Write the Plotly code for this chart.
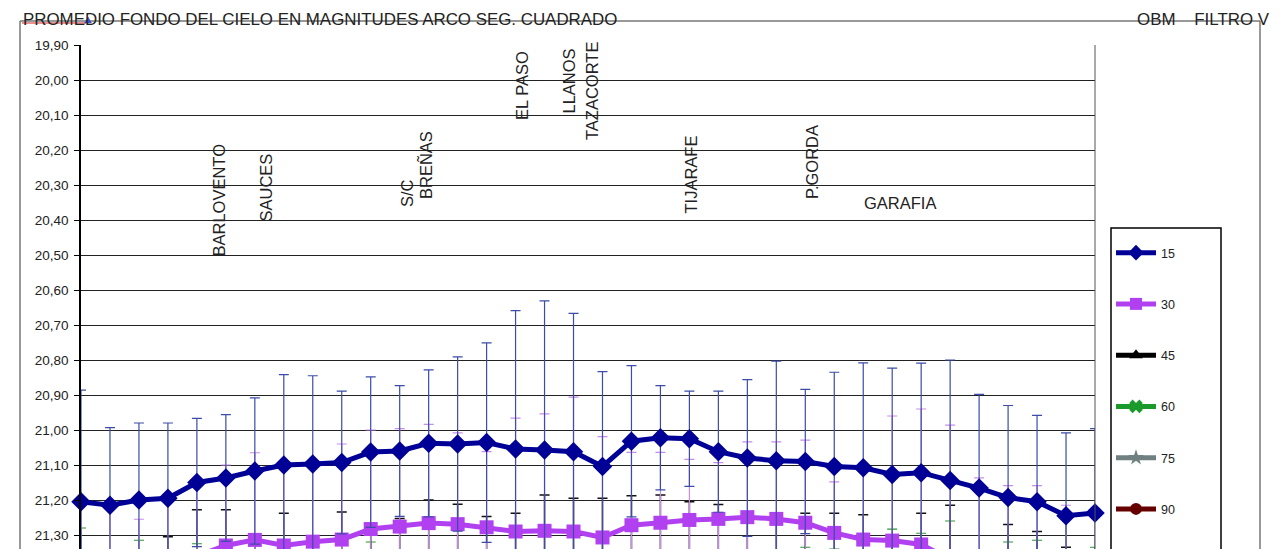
import plotly.graph_objects as go

# ---------------- data ----------------
puntos = list(range(36))
series_names = ["15", "30", "45", "60", "75", "90"]

m15 = [21.205, 21.215, 21.200, 21.195, 21.150, 21.137, 21.117, 21.100, 21.097, 21.093,
       21.063, 21.060, 21.038, 21.040, 21.036, 21.054, 21.057, 21.062, 21.104, 21.032,
       21.022, 21.025, 21.062, 21.080, 21.088, 21.090, 21.104, 21.108, 21.127, 21.122,
       21.144, 21.166, 21.193, 21.205, 21.245, 21.237]
top15 = [20.886, 20.993, 20.980, 20.980, 20.967, 20.956, 20.908, 20.842, 20.845, 20.889,
         20.848, 20.873, 20.828, 20.791, 20.751, 20.659, 20.631, 20.667, 20.833, 20.816,
         20.873, 20.889, 20.889, 20.856, 20.803, 20.884, 20.835, 20.808, 20.823, 20.809,
         20.800, 20.898, 20.930, 20.958, 21.008, 20.996]

m30 = [21.40, 21.42, 21.40, 21.39, 21.36, 21.330, 21.314, 21.330, 21.319, 21.313,
       21.283, 21.276, 21.266, 21.269, 21.278, 21.290, 21.288, 21.290, 21.307, 21.272,
       21.265, 21.257, 21.254, 21.249, 21.254, 21.265, 21.294, 21.313, 21.316, 21.327,
       21.37, 21.39, 21.41, 21.42, 21.45, 21.46]
top30 = [21.200, 21.210, 21.255, 21.195, 21.150, 21.100, 21.065, 21.100, 21.097, 21.040,
         21.000, 20.996, 20.984, 21.008, 21.062, 20.966, 20.954, 20.906, 21.019, 21.064,
         21.064, 21.084, 21.093, 21.034, 21.034, 21.029, 21.148, 21.108, 20.960, 20.940,
         20.986, 21.137, 21.159, 21.159, 21.215, 21.360]

m45 = [21.62, 21.64, 21.63, 21.58, 21.52, 21.52, 21.56, 21.53, 21.57, 21.52,
       21.55, 21.54, 21.49, 21.50, 21.53, 21.52, 21.47, 21.48, 21.49, 21.47,
       21.47, 21.49, 21.50, 21.51, 21.52, 21.52, 21.53, 21.54, 21.57, 21.53,
       21.51, 21.60, 21.56, 21.58, 21.62, 21.63]
top45 = [21.37, 21.38, 21.37, 21.305, 21.228, 21.228, 21.310, 21.238, 21.320, 21.234,
         21.283, 21.253, 21.200, 21.212, 21.247, 21.238, 21.186, 21.195, 21.195, 21.188,
         21.186, 21.205, 21.213, 21.249, 21.254, 21.238, 21.238, 21.242, 21.316, 21.238,
         21.215, 21.37, 21.270, 21.290, 21.335, 21.37]

m60 = [21.56, 21.66, 21.60, 21.67, 21.61, 21.68, 21.67, 21.67, 21.66, 21.66,
       21.60, 21.63, 21.62, 21.61, 21.62, 21.62, 21.60, 21.60, 21.61, 21.60,
       21.60, 21.61, 21.62, 21.62, 21.63, 21.63, 21.63, 21.64, 21.58, 21.59,
       21.55, 21.66, 21.62, 21.61, 21.55, 21.64]
top60 = [21.280, 21.38, 21.315, 21.39, 21.325, 21.40, 21.39, 21.39, 21.38, 21.38,
         21.320, 21.36, 21.36, 21.35, 21.36, 21.36, 21.35, 21.35, 21.36, 21.35,
         21.35, 21.36, 21.36, 21.36, 21.36, 21.335, 21.340, 21.37, 21.283, 21.295,
         21.260, 21.37, 21.320, 21.315, 21.245, 21.335]

m75 = [21.74, 21.76, 21.75, 21.75, 21.73, 21.72, 21.72, 21.71, 21.71, 21.70,
       21.69, 21.69, 21.68, 21.68, 21.68, 21.69, 21.69, 21.69, 21.70, 21.68,
       21.68, 21.68, 21.69, 21.69, 21.70, 21.70, 21.71, 21.71, 21.72, 21.72,
       21.73, 21.74, 21.75, 21.75, 21.77, 21.77]
top75 = [21.45, 21.46, 21.45, 21.45, 21.43, 21.42, 21.42, 21.41, 21.41, 21.40,
         21.39, 21.39, 21.38, 21.38, 21.38, 21.39, 21.39, 21.39, 21.40, 21.38,
         21.38, 21.38, 21.39, 21.39, 21.40, 21.40, 21.41, 21.41, 21.42, 21.42,
         21.43, 21.44, 21.45, 21.45, 21.47, 21.47]

m90 = [21.86, 21.88, 21.87, 21.87, 21.85, 21.84, 21.84, 21.83, 21.83, 21.82,
       21.81, 21.81, 21.80, 21.80, 21.80, 21.81, 21.81, 21.81, 21.82, 21.80,
       21.80, 21.80, 21.81, 21.81, 21.82, 21.82, 21.83, 21.83, 21.84, 21.84,
       21.85, 21.86, 21.87, 21.87, 21.89, 21.89]
top90 = [21.56, 21.58, 21.57, 21.57, 21.55, 21.54, 21.54, 21.53, 21.53, 21.52,
         21.51, 21.51, 21.50, 21.50, 21.50, 21.51, 21.51, 21.51, 21.52, 21.50,
         21.50, 21.50, 21.51, 21.51, 21.52, 21.52, 21.53, 21.53, 21.54, 21.54,
         21.55, 21.56, 21.57, 21.57, 21.59, 21.59]

y_ticks = [19.90, 20.00, 20.10, 20.20, 20.30, 20.40, 20.50, 20.60, 20.70,
           20.80, 20.90, 21.00, 21.10, 21.20, 21.30]

lugares = ["BARLOVENTO", "SAUCES", "S/C", "BREÑAS", "EL PASO", "LLANOS",
           "TAZACORTE", "TIJARAFE", "P.GORDA", "GARAFIA"]

# ---------------- layout helpers (page pixels; page body has an 8px margin) ----------------
OFF = 8
W, H = 1280 - OFF, 549 - OFF
L, R, T, B = 81, 1095, 45, 549          # plot area in page pixels


def px_x(p):
    return (p - L) / (R - L)


def px_y(p):
    return (B - p) / (B - T)


FONT = "Liberation Sans, Arial, sans-serif"
TXT = "#222222"

styles = {
    "15": dict(color="#000096", symbol="diamond", size=15, err="#3c4ca8", errw=1.2),
    "30": dict(color="#B040F0", symbol="square", size=14, err="#c98ce8", errw=1.2),
    "45": dict(color="#000000", symbol="triangle-up", size=9, err="#111111", errw=1.5),
    "60": dict(color="#1a9a2a", symbol="x", size=9, err="#2a9a2a", errw=1.2),
    "75": dict(color="#708080", symbol="star", size=9, err="#7a8a8a", errw=1.2),
    "90": dict(color="#660000", symbol="circle", size=9, err="#660000", errw=1.2),
}
data = {"15": (m15, top15), "30": (m30, top30), "45": (m45, top45),
        "60": (m60, top60), "75": (m75, top75), "90": (m90, top90)}

fig = go.Figure()
for rank, name in reversed(list(enumerate(series_names))):
    vals, tops = data[name]
    err = [round(v - t, 4) for v, t in zip(vals, tops)]
    st = styles[name]
    fig.add_trace(go.Scatter(
        x=puntos, y=vals, name=name, mode="lines+markers",
        line=dict(color=st["color"], width=5),
        marker=dict(color=st["color"], symbol=st["symbol"], size=st["size"]),
        error_y=dict(type="data", array=err, arrayminus=err, symmetric=False,
                     color=st["err"], thickness=st["errw"], width=5),
        legendrank=rank + 1, legendgroup=name, cliponaxis=False,
    ))

# location labels (centre x, centre y in page pixels)
pos = {
    "BARLOVENTO": (218, 200.5, -90), "SAUCES": (265, 187.5, -90),
    "S/C": (407, 193, -90), "BREÑAS": (425, 165, -90),
    "EL PASO": (522, 86, -90), "LLANOS": (569, 81.5, -90),
    "TAZACORTE": (592, 91, -90), "TIJARAFE": (690, 174.5, -90),
    "P.GORDA": (812, 162, -90), "GARAFIA": (900, 203, 0),
}
ann = []
for name in lugares:
    x, y, a = pos[name]
    ann.append(dict(text=name, x=px_x(x), y=px_y(y), xref="paper", yref="paper",
                    xanchor="center", yanchor="middle", textangle=a, showarrow=False,
                    font=dict(family=FONT, size=16.5, color=TXT)))

ann.append(dict(text="PROMEDIO FONDO DEL CIELO EN MAGNITUDES ARCO SEG. CUADRADO",
                x=px_x(22), y=px_y(19.5), xref="paper", yref="paper",
                xanchor="left", yanchor="middle", showarrow=False, borderpad=0,
                font=dict(family=FONT, size=16.9, color=TXT)))
ann.append(dict(text="OBM\u00a0\u00a0\u00a0\u00a0FILTRO V",
                x=px_x(1271), y=px_y(19.5), xref="paper", yref="paper",
                xanchor="right", yanchor="middle", showarrow=False, borderpad=0,
                font=dict(family=FONT, size=16.9, color=TXT)))

shapes = [
    # outer chart frame
    dict(type="line", xref="paper", yref="paper", x0=px_x(20), x1=px_x(1260),
         y0=px_y(21), y1=px_y(21), line=dict(color="#777777", width=1.5)),
    dict(type="line", xref="paper", yref="paper", x0=px_x(20), x1=px_x(20),
         y0=px_y(21), y1=px_y(560), line=dict(color="#777777", width=1.5)),
    dict(type="line", xref="paper", yref="paper", x0=px_x(1260), x1=px_x(1260),
         y0=px_y(21), y1=px_y(560), line=dict(color="#777777", width=1.5)),
    # right border of plot area
    dict(type="line", xref="paper", yref="paper", x0=1, x1=1, y0=0, y1=1,
         line=dict(color="#555555", width=1)),
    # legend frame
    dict(type="rect", xref="paper", yref="paper", x0=px_x(1111), x1=px_x(1221),
         y0=px_y(228), y1=px_y(570), line=dict(color="#000000", width=1.5),
         fillcolor="rgba(0,0,0,0)"),
    # spell-check underline under the title
    dict(type="line", xref="paper", yref="paper", x0=px_x(22), x1=px_x(86),
         y0=px_y(23), y1=px_y(23), line=dict(color="#dd2222", width=1)),
    # small blue cursor mark
    dict(type="path", xref="paper", yref="paper",
         path="M {} {} L {} {} L {} {} Z".format(px_x(84.5), px_y(23), px_x(91.5), px_y(23),
                                                 px_x(88), px_y(17)),
         fillcolor="#3355cc", line=dict(color="#3355cc", width=0.5)),
]

fig.update_layout(
    width=W, height=H,
    margin=dict(l=L - OFF, r=W - (R - OFF), t=T - OFF, b=H - (B - OFF), pad=0),
    paper_bgcolor="white", plot_bgcolor="white",
    separators=",.",
    showlegend=True,
    legend=dict(x=px_x(1111), y=px_y(238), xanchor="left", yanchor="top",
                bgcolor="rgba(0,0,0,0)", borderwidth=0, tracegroupgap=32,
                itemsizing="constant", itemwidth=40,
                font=dict(family=FONT, size=12.5, color=TXT)),
    xaxis=dict(range=[0, 35], showgrid=False, zeroline=False, showticklabels=False,
               ticks="", showline=False),
    yaxis=dict(range=[21.34, 19.90], tickvals=y_ticks, tickformat=".2f",
               showgrid=True, gridcolor="#222222", gridwidth=1, zeroline=False,
               showline=True, linecolor="#000000", linewidth=1.5, mirror=False,
               ticks="outside", ticklen=5, tickcolor="#000000", tickwidth=1,
               tickfont=dict(family=FONT, size=13.5, color=TXT),
               ticklabelstandoff=3),
    annotations=ann, shapes=shapes,
)

fig.write_html("out.html")
